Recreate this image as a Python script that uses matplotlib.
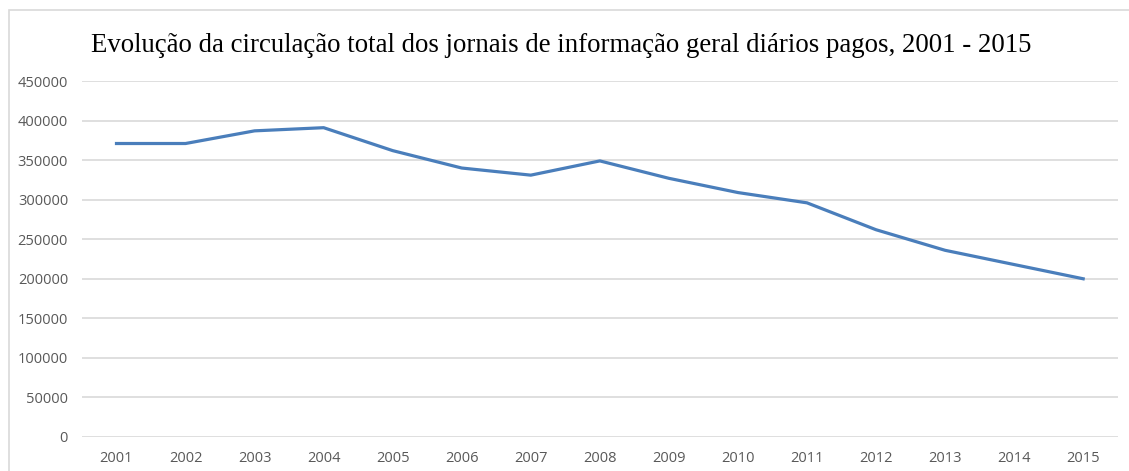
import numpy as np
import matplotlib.pyplot as plt
from matplotlib.patches import Rectangle

# data
anos = ['2001', '2002', '2003', '2004', '2005', '2006', '2007', '2008',
        '2009', '2010', '2011', '2012', '2013', '2014', '2015']
circulacao = [371000, 371000, 387000, 391000, 362000, 340000, 331000, 349000,
              327000, 309000, 296000, 262000, 236000, 218000, 200000]
y_ticks = [0, 50000, 100000, 150000, 200000, 250000, 300000, 350000, 400000, 450000]

fig = plt.figure(figsize=(11.29, 4.71), dpi=100)
ax = fig.add_axes([0.0726, 0.0722, 0.9174, 0.7558])

# outer chart border (only left/top visible in the crop)
fig.patches.append(Rectangle((8.5 / 1129, -0.2), 1.2, 1.2 - 9.5 / 471,
                             transform=fig.transFigure, fill=False,
                             edgecolor='#d9d9d9', linewidth=1.2))

x = np.arange(len(anos))
ax.plot(x, circulacao, color='#4a7ebb', linewidth=2.3, solid_joinstyle='round')

ax.set_xlim(-0.5, len(anos) - 0.5)
ax.set_ylim(0, 450000)
ax.set_xticks(x)
ax.set_xticklabels(anos)
ax.set_yticks(y_ticks)
ax.set_yticklabels([str(v) for v in y_ticks])
ax.grid(axis='y', color='#d9d9d9', linewidth=1.2)
ax.set_axisbelow(True)
for s in ax.spines.values():
    s.set_visible(False)
ax.tick_params(length=0, labelsize=10.5, labelcolor='#595959')
ax.tick_params(axis='y', pad=10)
ax.tick_params(axis='x', pad=10)
for lab in ax.get_xticklabels() + ax.get_yticklabels():
    lab.set_family('Open Sans')

fig.text(0.497, 0.89, 'Evolução da circulação total dos jornais de informação geral diários pagos, 2001 - 2015',
         ha='center', va='baseline', fontsize=19.3, family='Liberation Serif', color='black')

fig.savefig('out.png', dpi=100)
